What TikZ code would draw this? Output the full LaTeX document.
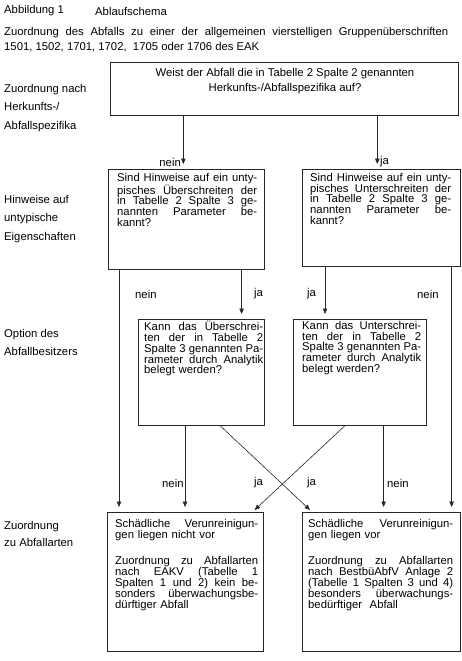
\documentclass[tikz,border=0pt]{standalone}
\usepackage{fontspec}
\setmainfont{Liberation Sans}
\usetikzlibrary{arrows.meta}
\newlength{\jw}
\newcommand{\jline}[1]{\makebox[\jw][s]{\spaceskip=\fontdimen2\font plus 1fil\relax #1}\\}
\begin{document}
\begin{tikzpicture}[x=1pt,y=-1pt,
  font=\fontsize{11.3}{10.8}\selectfont,
  box/.style={draw=black!85, line width=0.6pt, inner sep=0pt, anchor=north west},
  btxt/.style={anchor=north west, inner sep=0pt, text width=#1, align=left},
  lbl/.style={inner sep=0pt, anchor=west},
  side/.style={inner sep=0pt, anchor=west, align=left, font=\fontsize{11.3}{18.5}\selectfont},
  arr/.style={-{Triangle[length=5.5pt,width=4.5pt]}, line width=0.6pt, draw=black!85, shorten >=5pt},
  darr/.style={-{Triangle[length=5.5pt,width=4.5pt]}, line width=0.6pt, draw=black!85}]
\useasboundingbox (0,0) rectangle (462,661);

% header
\node[lbl] (h1) at (4,11) {Abbildung 1};
\node[lbl] (h2) at (95,11) {Ablaufschema};
\node[lbl] (h3) at (4,33) {\makebox[444pt][s]{Zuordnung des Abfalls zu einer der allgemeinen vierstelligen Gruppenüberschriften}};
\node[lbl] (h4) at (4,47) {1501, 1502, 1701, 1702, \ 1705 oder 1706 des EAK};

% side labels
\node[side] (s1) at (4,108) {Zuordnung nach\\Herkunfts-/\\Abfallspezifika};
\node[side] (s2) at (4,219) {Hinweise auf\\untypische\\Eigenschaften};
\node[side] (s3) at (4,342.5) {Option des\\Abfallbesitzers};
\node[side, font=\fontsize{11.3}{17}\selectfont] (s4) at (4,533.5) {Zuordnung\\zu Abfallarten};

% boxes
\node[box, minimum width=348pt, minimum height=53pt] (top) at (110,62) {};
\node[inner sep=0pt, align=center, font=\fontsize{11.3}{15}\selectfont] (toptxt) at (285,81)
  {Weist der Abfall die in Tabelle 2 Spalte 2 genannten\\Herkunfts-/Abfallspezifika auf?};

\node[box, minimum width=156pt, minimum height=100pt] (b1) at (108,169) {};
\node[box, minimum width=158pt, minimum height=97pt] (b2) at (302,169) {};
\node[box, minimum width=126pt, minimum height=106pt] (m1) at (138,319) {};
\node[box, minimum width=133pt, minimum height=106pt] (m2) at (293,319) {};
\node[box, minimum width=156pt, minimum height=139pt] (r1) at (107,512) {};
\node[box, minimum width=158pt, minimum height=139pt] (r2) at (302,512) {};

\node[btxt=140pt] (t1) at (117,173) {\setlength{\jw}{140pt}\jline{Sind Hinweise auf ein unty-}\jline{pisches Überschreiten der}\jline{in Tabelle 2 Spalte 3 ge-}\jline{nannten Parameter be-}kannt?};
\node[btxt=141pt] (t2) at (310,173) {\setlength{\jw}{141pt}\jline{Sind Hinweise auf ein unty-}\jline{pisches Unterschreiten der}\jline{in Tabelle 2 Spalte 3 ge-}\jline{nannten Parameter be-}kannt?};
\node[btxt=119pt] (t3) at (144,321) {\setlength{\jw}{119pt}\jline{Kann das Überschrei-}\jline{ten der in Tabelle 2}\jline{Spalte 3 genannten Pa-}\jline{rameter durch Analytik}belegt werden?};
\node[btxt=119pt] (t4) at (302,321) {\setlength{\jw}{119pt}\jline{Kann das Unterschrei-}\jline{ten der in Tabelle 2}\jline{Spalte 3 genannten Pa-}\jline{rameter durch Analytik}belegt werden?};
\node[btxt=143pt] (t5) at (115,519) {\setlength{\jw}{143pt}\jline{Schädliche Verunreinigun-}gen liegen nicht vor\\[16pt]\jline{Zuordnung zu Abfallarten}\jline{nach EAKV (Tabelle 1}\jline{Spalten 1 und 2) kein be-}\jline{sonders überwachungsbe-}dürftiger Abfall};
\node[btxt=145pt] (t6) at (308,519) {\setlength{\jw}{145pt}\jline{Schädliche Verunreinigun-}gen liegen vor\\[16pt]\jline{Zuordnung zu Abfallarten}\jline{nach BestbüAbfV Anlage 2}\jline{(Tabelle 1 Spalten 3 und 4)}\jline{besonders überwachungs-}bedürftiger \ Abfall};

% connector coordinates
\coordinate (c1) at ([xshift=-3pt]b1.north);
\coordinate (c2) at ([xshift=-4pt]b2.north);
\coordinate (c3) at ([xshift=11pt]b1.south west);
\coordinate (c4) at ([xshift=-23pt]b1.south east);
\coordinate (c5) at ([xshift=23pt]b2.south west);
\coordinate (c6) at ([xshift=-9pt]b2.south east);
\coordinate (c7) at ([xshift=47pt]m1.south west);
\coordinate (c8) at ([xshift=-43pt]m2.south east);
\coordinate (d1) at ([xshift=82pt]m1.south west);
\coordinate (d2) at ([xshift=52pt]m2.south west);
\coordinate (e1) at ([xshift=8pt,yshift=2pt]r2.north west);
\coordinate (e2) at ([xshift=-9pt,yshift=2pt]r1.north east);

\draw[arr] (c1 |- top.south) -- (c1);
\draw[arr] (c2 |- top.south) -- (c2);
\draw[arr] (c3) -- (c3 |- r1.north);
\draw[arr] (c4) -- (c4 |- m1.north);
\draw[arr] (c5) -- (c5 |- m2.north);
\draw[arr] (c6) -- (c6 |- r2.north);
\draw[arr] (c7) -- (c7 |- r1.north);
\draw[arr] (c8) -- (c8 |- r2.north);
\draw[darr] (d1) -- (e1);
\draw[darr] (d2) -- (e2);

% connector labels
\node[inner sep=0pt, anchor=east] (l1) at (181,162) {nein};
\node[lbl] (l2) at (380,162) {ja};
\node[lbl] (l3) at (135,294) {nein};
\node[lbl] (l4) at (254,294) {ja};
\node[lbl] (l5) at (307,294) {ja};
\node[lbl] (l6) at (417,294) {nein};
\node[lbl] (l7) at (162,483) {nein};
\node[lbl] (l8) at (254,483) {ja};
\node[lbl] (l9) at (307,483) {ja};
\node[lbl] (l10) at (387,483) {nein};
\end{tikzpicture}
\end{document}
